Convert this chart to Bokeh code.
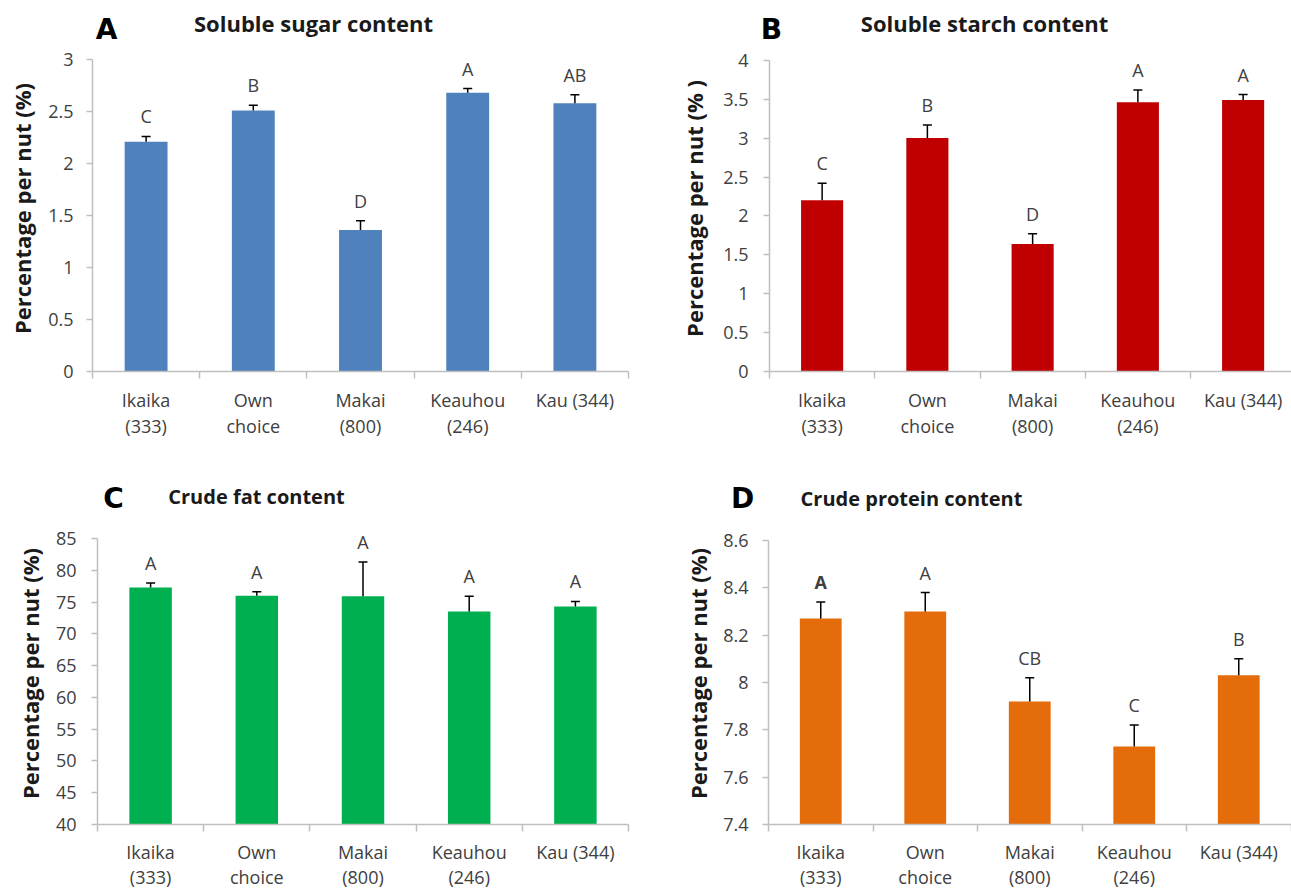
import numpy as np
from bokeh.plotting import figure
from bokeh.models import (ColumnDataSource, Range1d, FixedTicker, NumeralTickFormatter,
                          Whisker, TeeHead, Label)
from bokeh.layouts import column, row
from bokeh.embed import file_html
from bokeh.resources import INLINE
from bokeh.core.properties import value, field

# ---------------- data ----------------
categories = ["Ikaika\n(333)", "Own\nchoice", "Makai\n(800)", "Keauhou\n(246)", "Kau (344)"]

sugar = [2.21, 2.51, 1.36, 2.68, 2.58]
sugar_err = [0.05, 0.05, 0.09, 0.04, 0.08]
sugar_letters = ["C", "B", "D", "A", "AB"]

starch = [2.20, 3.00, 1.64, 3.46, 3.49]
starch_err = [0.22, 0.17, 0.13, 0.16, 0.07]
starch_letters = ["C", "B", "D", "A", "A"]

fat = [77.3, 76.0, 75.9, 73.5, 74.3]
fat_err = [0.7, 0.6, 5.4, 2.4, 0.8]
fat_letters = ["A", "A", "A", "A", "A"]

protein = [8.27, 8.30, 7.92, 7.73, 8.03]
protein_err = [0.07, 0.08, 0.10, 0.09, 0.07]
protein_letters = ["A", "A", "CB", "C", "B"]

titles = ["Soluble sugar content", "Soluble starch content", "Crude fat content", "Crude protein content"]
tags = ["A", "B", "C", "D"]

FONT = "Open Sans"
GRAY = "#404040"
AXIS = "#BFBFBF"
PAGE_W = 1291


def header(page_y, H, items, title_size):
    """A strip holding the panel tags and titles; coordinates are page pixels."""
    p = figure(width=PAGE_W, height=H, x_range=Range1d(0, PAGE_W),
               y_range=Range1d(page_y + H, page_y), output_backend="svg",
               toolbar_location=None, tools="", x_axis_type=None, y_axis_type=None,
               min_border=0, min_border_left=0, min_border_right=0,
               min_border_top=0, min_border_bottom=0)
    p.outline_line_color = None
    p.xgrid.visible = False
    p.ygrid.visible = False
    for (tag, tag_xy, title, title_xy) in items:
        p.add_layout(Label(x=title_xy[0], y=title_xy[1], text=title, text_font=FONT,
                           text_font_style="bold", text_font_size=title_size,
                           text_align="center", text_baseline="middle", text_color="#1a1a1a"))
        p.add_layout(Label(x=tag_xy[0], y=tag_xy[1], text=tag, text_font="DejaVu Sans",
                           text_font_style="bold", text_font_size="28px",
                           text_align="center", text_baseline="middle", text_color="black"))
    return p


def make_panel(vals, errs, letters, color, ylo, yhi, ystep, ylabel,
               W, H, fl, fr, fb, page_y, y_top_page, cat_w,
               ylab_standoff, ytick_standoff, xstandoff, xline_h,
               letter_styles=None):
    n = len(categories)
    fw = W - fl - fr
    fh = H - fb
    xend = fw / cat_w
    px_per = (page_y + fh - y_top_page) / (yhi - ylo)
    y_end = yhi + (y_top_page - page_y) / px_per
    p = figure(width=W, height=H, x_range=Range1d(0, xend), y_range=Range1d(ylo, y_end),
               output_backend="svg", toolbar_location=None, tools="",
               min_border_left=fl, min_border_right=fr, min_border_top=0, min_border_bottom=fb)
    p.outline_line_color = None
    p.xgrid.visible = False
    p.ygrid.visible = False

    xs = [i + 0.5 for i in range(n)]
    src = ColumnDataSource(dict(
        x=xs, y=vals, upper=[v + e for v, e in zip(vals, errs)], letter=letters,
        style=letter_styles if letter_styles else ["normal"] * n))
    p.vbar(x="x", top="y", bottom=ylo, width=0.4, fill_color=color, line_color=None, source=src)
    wh = Whisker(base="x", upper="upper", lower="y", source=src, dimension="height",
                 line_color="black", line_width=1.5, level="overlay",
                 upper_head=TeeHead(size=9, line_color="black", line_width=1.5),
                 lower_head=None)
    p.add_layout(wh)
    p.text(x="x", y="upper", text="letter", source=src, text_align="center",
           text_baseline="bottom", y_offset=-8, text_font=value(FONT),
           text_font_size="18px", text_color=GRAY, text_font_style=field("style"))

    # y axis
    ya = p.yaxis[0]
    ticks = np.round(np.arange(ylo, yhi + ystep / 2, ystep), 6).tolist()
    ya.ticker = FixedTicker(ticks=ticks)
    ya.bounds = (ylo, yhi)
    ya.formatter = NumeralTickFormatter(format="0.[0]")
    ya.axis_line_color = AXIS
    ya.axis_line_width = 1.5
    ya.major_tick_line_color = AXIS
    ya.major_tick_line_width = 1.5
    ya.major_tick_out = 6
    ya.major_tick_in = 0
    ya.minor_tick_out = 0
    ya.minor_tick_in = 0
    ya.major_label_text_font = FONT
    ya.major_label_text_font_size = "18px"
    ya.major_label_text_color = GRAY
    ya.major_label_standoff = ytick_standoff
    ya.axis_label = ylabel
    ya.axis_label_text_font = FONT
    ya.axis_label_text_font_style = "bold"
    ya.axis_label_text_font_size = "22px"
    ya.axis_label_text_color = "#1a1a1a"
    ya.axis_label_standoff = ylab_standoff

    # x axis
    xa = p.xaxis[0]
    xa.ticker = FixedTicker(ticks=xs, minor_ticks=list(range(n + 1)))
    xa.major_label_overrides = {x: c for x, c in zip(xs, categories)}
    xa.axis_line_color = AXIS
    xa.axis_line_width = 1.5
    xa.major_tick_out = 0
    xa.major_tick_in = 0
    xa.major_tick_line_color = None
    xa.minor_tick_out = 7
    xa.minor_tick_in = 0
    xa.minor_tick_line_color = AXIS
    xa.minor_tick_line_width = 1.5
    xa.major_label_text_font = FONT
    xa.major_label_text_font_size = "18px"
    xa.major_label_text_color = GRAY
    xa.major_label_standoff = xstandoff
    xa.major_label_text_line_height = xline_h
    return p


H1 = 45
hTop = header(0, H1, [(tags[0], (106, 29), titles[0], (313, 22)),
                      (tags[1], (771, 29), titles[1], (984, 22))], "22px")
TOP_Y = H1
TOP_H = 478 - H1
pA = make_panel(sugar, sugar_err, sugar_letters, "#4F81BD", 0, 3, 0.5,
                "Percentage per nut (%)",
                W=645, H=TOP_H, fl=92, fr=17, fb=478 - 371, page_y=TOP_Y, y_top_page=59,
                cat_w=107.2, ylab_standoff=8, ytick_standoff=13, xstandoff=9, xline_h=1.12)
pB = make_panel(starch, starch_err, starch_letters, "#C00000", 0, 4, 0.5,
                "Percentage per nut (% )",
                W=646, H=TOP_H, fl=124, fr=0, fb=478 - 375, page_y=TOP_Y, y_top_page=60,
                cat_w=105.25, ylab_standoff=11, ytick_standoff=15, xstandoff=9, xline_h=1.12)
H2 = 44
hBot = header(478, H2, [(tags[2], (113, 498), titles[2], (256, 496)),
                        (tags[3], (742, 498), titles[3], (911, 498))], "20px")
BOT_Y = 478 + H2
BOT_H = 892 - BOT_Y
pC = make_panel(fat, fat_err, fat_letters, "#00B050", 40, 85, 5,
                "Percentage per nut (%)",
                W=645, H=BOT_H, fl=97, fr=17, fb=892 - 825, page_y=BOT_Y, y_top_page=538,
                cat_w=106.2, ylab_standoff=8, ytick_standoff=15, xstandoff=8, xline_h=1.08)
pD = make_panel(protein, protein_err, protein_letters, "#E46C0A", 7.4, 8.6, 0.2,
                "Percentage per nut (%)",
                W=646, H=BOT_H, fl=123, fr=0, fb=892 - 825, page_y=BOT_Y, y_top_page=540,
                cat_w=104.5, ylab_standoff=7, ytick_standoff=14, xstandoff=8, xline_h=1.08,
                letter_styles=["bold", "normal", "normal", "normal", "normal"])

layout = column(hTop, row(pA, pB), hBot, row(pC, pD))
open("out.html", "w").write(file_html(layout, INLINE))
